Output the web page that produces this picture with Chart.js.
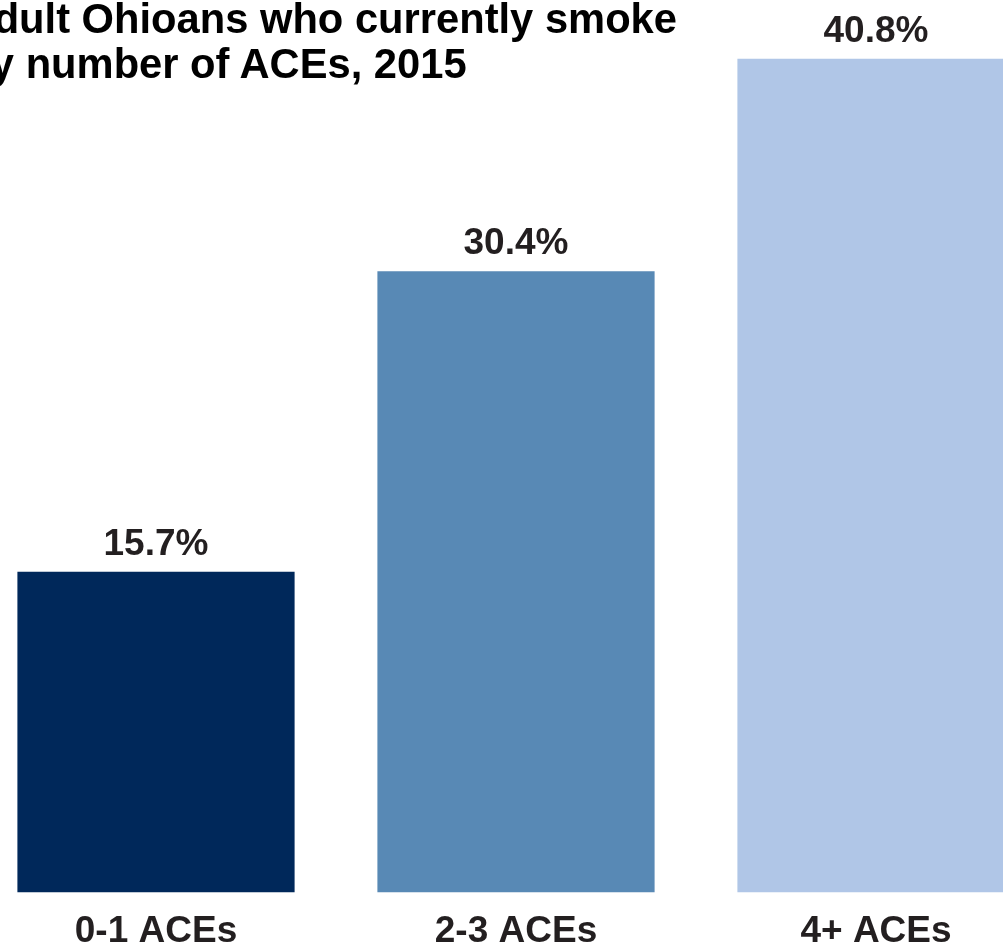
<!DOCTYPE html>
<html>
<head>
<meta charset="utf-8">
<script src="https://cdn.jsdelivr.net/npm/chart.js@4.4.1/dist/chart.umd.min.js"></script>
<style>
    html, body { margin: 0; padding: 0; background: #FFFFFF; overflow: hidden; }
    #page { position: relative; width: 1003px; height: 950px; overflow: hidden; }
    #title {
        position: absolute; top: -4px; left: -384px; width: 1200px;
        text-align: center; font: bold 41.7px "Liberation Sans", Arial, sans-serif;
        line-height: 45px; color: #000000;
    }
    #wrap { position: absolute; left: -24px; top: 0; width: 1080px; height: 971px; }
</style>
</head>
<body>
<div id="page">
    <div id="wrap"><canvas id="chart"></canvas></div>
    <div id="title">Percent of adult Ohioans who currently smoke<br>by number of ACEs, 2015</div>
</div>
<script>
const categories = ["0-1 ACEs", "2-3 ACEs", "4+ ACEs"];
const smokePct = [15.7, 30.4, 40.8];
const barColors = ["#00285A", "#5889B5", "#B0C6E7"];

// etiquetas de valor encima de cada barra
const valueLabels = {
    id: "valueLabels",
    afterDatasetsDraw(chart) {
        const ctx = chart.ctx;
        const meta = chart.getDatasetMeta(0);
        ctx.save();
        ctx.font = "bold 37px 'Liberation Sans', Arial, sans-serif";
        ctx.fillStyle = "#231F20";
        ctx.textAlign = "center";
        ctx.textBaseline = "alphabetic";
        meta.data.forEach((bar, i) => {
            ctx.fillText(smokePct[i].toFixed(1) + "%", bar.x, bar.y - 17);
        });
        ctx.restore();
    }
};

new Chart(document.getElementById("chart"), {
    type: "bar",
    data: {
        labels: categories,
        datasets: [{
            data: smokePct,
            backgroundColor: barColors,
            borderWidth: 0,
            barPercentage: 0.77,
            categoryPercentage: 1
        }]
    },
    options: {
        responsive: true,
        maintainAspectRatio: false,
        animation: false,
        layout: { padding: { top: 20, left: 0, right: 0, bottom: 0 } },
        scales: {
            y: { display: false, min: 0, max: 42.7 },
            x: {
                grid: { display: false, drawTicks: false },
                border: { display: false },
                ticks: {
                    padding: 17,
                    color: "#231F20",
                    font: { family: "'Liberation Sans', Arial, sans-serif", size: 37, weight: "bold" }
                }
            }
        },
        plugins: {
            legend: { display: false },
            tooltip: { enabled: false }
        }
    },
    plugins: [valueLabels]
});
</script>
</body>
</html>
